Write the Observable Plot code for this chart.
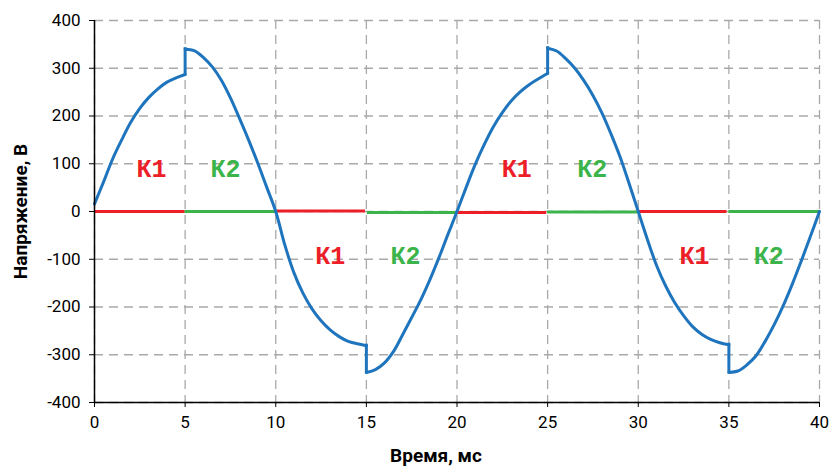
<!DOCTYPE html>
<html><head><meta charset="utf-8">
<script src="https://cdn.jsdelivr.net/npm/d3@7"></script>
<script src="https://cdn.jsdelivr.net/npm/@observablehq/plot@0.6"></script>
<style>
html,body{margin:0;padding:0;background:#fff;}
</style>
</head><body><div id="chart"></div>
<script>
// Blue voltage curve (ms, V), split into continuous pieces between the switching jumps
const time = [
  0,0.5,1,1.5,2,2.5,3,3.5,4,4.5,5,
  5,5.5,6,6.5,7,7.5,8,8.5,9,9.5,10,
  10.5,11,11.5,12,12.5,13,13.5,14,14.5,15,
  15,15.5,16,16.5,17,17.5,18,18.5,19,19.5,20,
  20.5,21,21.5,22,22.5,23,23.5,24,24.5,25,
  25,25.5,26,26.5,27,27.5,28,28.5,29,29.5,30,
  30.5,31,31.5,32,32.5,33,33.5,34,34.5,35,
  35,35.5,36,36.5,37,37.5,38,38.5,39,39.5,40
];
const voltage = [
  16,62,110,150,187,216,239,257,271,280,287,
  340,337,323,303,275,238,195,150,102,51,0,
  -70,-128,-171,-204,-229,-248,-262,-272,-277,-281,
  -337,-331,-317,-293,-258,-222,-185,-143,-97,-48,0,
  50,98,140,177,207,232,251,266,278,289,
  342,336,320,300,274,243,206,162,114,58,0,
  -58,-112,-155,-190,-218,-241,-257,-268,-275,-279,
  -337,-334,-321,-302,-272,-237,-197,-152,-103,-52,0
];
const piece = [
  0,0,0,0,0,0,0,0,0,0,0,
  1,1,1,1,1,1,1,1,1,1,1,
  1,1,1,1,1,1,1,1,1,1,
  2,2,2,2,2,2,2,2,2,2,2,
  2,2,2,2,2,2,2,2,2,2,
  3,3,3,3,3,3,3,3,3,3,3,
  3,3,3,3,3,3,3,3,3,3,
  4,4,4,4,4,4,4,4,4,4,4
];
// Vertical switching jumps
const jumpT    = [5, 15, 25, 35];
const jumpFrom = [287, -281, 289, -279];
const jumpTo   = [340, -337, 342, -337];

// Red / green key-state segments near 0 V
const segStart = [0, 5, 10, 15.05, 20, 25, 30, 35];
const segEnd   = [5, 10, 14.95, 20, 24.95, 30, 34.9, 40];
const segLevel = [0, 0, 1, -2, -2, -1, 0, 0];
const segKey   = ["К1","К2","К1","К2","К1","К2","К1","К2"];

// Labels
const labelT    = [3.15, 7.23, 13.0, 17.16, 23.3, 27.46, 33.1, 37.2];
const labelV    = [88, 88, -94, -94, 88, 88, -94, -94];
const labelText = ["К1","К2","К1","К2","К1","К2","К1","К2"];

const xTicks = [0,5,10,15,20,25,30,35,40];
const yTicks = [-400,-300,-200,-100,0,100,200,300,400];
const xDomain = [0, 40];
const yDomain = [-400, 400];
const keyNames = ["К1","К2"];
const keyColors = ["#ec1f28", "#3bb44a"];
const waveColor = "#1f75bd";
const xTitle = "Время, мс";
const yTitle = "Напряжение, В";

const wave = time.map((t, i) => ({t, v: voltage[i], p: piece[i]}));
const jumps = jumpT.map((t, i) => ({t, a: jumpFrom[i], b: jumpTo[i]}));
const segs = segStart.map((a, i) => ({a, b: segEnd[i], level: segLevel[i], key: segKey[i]}));
const labels = labelT.map((t, i) => ({t, v: labelV[i], text: labelText[i]}));

const gridStyle = {stroke: "#a9a9a9", strokeOpacity: 1, strokeDasharray: "9,6", strokeWidth: 1.3};
const monoFont = "'Liberation Mono', 'Courier New', 'DejaVu Sans Mono', monospace";

const chart = Plot.plot({
  width: 830,
  height: 466,
  marginLeft: 94,
  marginRight: 11,
  marginTop: 20,
  marginBottom: 64,
  style: {fontSize: "17px", background: "#fff", color: "#000"},
  x: {domain: xDomain},
  y: {domain: yDomain},
  color: {domain: keyNames, range: keyColors},
  marks: [
    Plot.gridY(yTicks, gridStyle),
    Plot.gridX(xTicks, gridStyle),
    Plot.ruleY(segs, {y: "level", x1: "a", x2: "b", stroke: "key", strokeWidth: 3}),
    Plot.line(wave, {x: "t", y: "v", z: "p", stroke: waveColor, strokeWidth: 3, curve: "catmull-rom"}),
    Plot.ruleX(jumps, {x: "t", y1: "a", y2: "b", stroke: waveColor, strokeWidth: 3, strokeLinecap: "square"}),
    Plot.text(labels, {x: "t", y: "v", text: "text", fill: "text", fontFamily: monoFont, fontWeight: "bold", fontSize: 25, ariaLabel: "key labels"}),
    Plot.ruleX([xDomain[0]], {stroke: "#000", strokeWidth: 1.5}),
    Plot.ruleY([yDomain[0]], {stroke: "#000", strokeWidth: 1.5}),
    Plot.axisX({ticks: xTicks, tickSize: 5, tickPadding: 8, label: null, fontSize: 17, fontFamily: "Roboto"}),
    Plot.axisY({ticks: yTicks, tickSize: 5, tickPadding: 9, tickFormat: d => String(d), label: null, fontSize: 17, fontFamily: "Roboto"}),
    Plot.text([xTitle], {frameAnchor: "bottom", textAnchor: "middle", lineAnchor: "middle", dx: -21, dy: 53, fontWeight: "bold", fontSize: 19, fontFamily: "Roboto", text: d => d}),
    Plot.text([yTitle], {frameAnchor: "left", textAnchor: "middle", lineAnchor: "middle", rotate: -90, dx: -74, fontWeight: "bold", fontSize: 19, fontFamily: "Roboto", text: d => d})
  ]
});
d3.select(chart).selectAll('g[aria-label="key labels"] text')
  .style("font-family", monoFont).style("font-weight", "bold").style("letter-spacing", "3px");
document.getElementById("chart").appendChild(chart);
</script>
</body></html>
